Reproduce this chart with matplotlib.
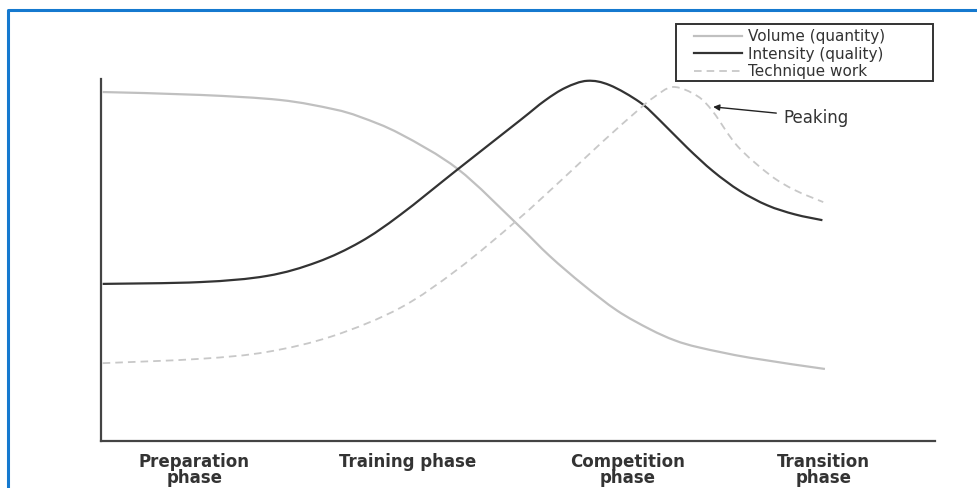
import numpy as np
import matplotlib.pyplot as plt
from matplotlib.patches import Rectangle, PathPatch
from matplotlib.path import Path

# curves; x runs 0-100 along the axis, y 0-100 up the axis
vol_x = [0.2, 11.9, 21.5, 27.8, 31.1, 35.9, 42.8, 49.9, 53.8, 57.8, 61.9, 65.8, 68.8, 71.8, 77.8,
         86.8]
vol_y = [96.4, 95.6, 94.2, 91.7, 89.5, 84.8, 75.1, 59.9, 51.1, 43.2, 36.0, 30.9, 27.8, 25.8, 23.0,
         19.9]

int_x = [0.2, 11.9, 19.9, 25.9, 31.1, 35.9, 42.8, 50.2, 53.2, 55.7, 58.3, 61.0, 64.6, 67.0, 70.3,
         73.4, 76.6, 79.9, 83.2, 86.5]
int_y = [43.4, 43.9, 45.6, 49.4, 55.0, 62.5, 75.1, 88.5, 94.0, 97.6, 99.5, 98.3, 93.6, 88.6, 81.0,
         74.5, 69.1, 65.1, 62.6, 61.0]

tech_x = [0.2, 11.9, 19.9, 27.8, 35.9, 42.8, 49.9, 55.4, 60.2, 64.3, 66.2, 68.6, 71.5, 73.4, 76.3,
          80.2, 83.2, 86.6]
tech_y = [21.5, 22.7, 24.6, 29.0, 36.8, 47.5, 61.0, 72.5, 82.8, 91.2, 94.8, 97.8, 95.3, 90.9, 81.5,
          73.5, 69.3, 66.0]

labels = ['Volume (quantity)', 'Intensity (quality)', 'Technique work']
phase_labels = ['Preparation\nphase', 'Training phase', 'Competition\nphase', 'Transition\nphase']
phase_pos = [11.2, 36.8, 63.1, 86.6]

peak_xy = (73.4, 92.3)
peak_text_xy = (81.8, 89.5)

styles = [
    dict(color='#c0c0c0', lw=1.6, ls='-'),
    dict(color='#333333', lw=1.6, ls='-'),
    dict(color='#c8c8c8', lw=1.3, ls=(0, (4.2, 2.8))),
]


def smooth_path(xs, ys):
    # draw the read points as a smooth curve (catmull-rom as bezier segments)
    p = np.column_stack([xs, ys])
    p = np.vstack([p[0], p, p[-1]])
    verts = [p[1]]
    codes = [Path.MOVETO]
    for i in range(1, len(p) - 2):
        c1 = p[i] + (p[i + 1] - p[i - 1]) / 6
        c2 = p[i + 1] - (p[i + 2] - p[i]) / 6
        verts += [c1, c2, p[i + 1]]
        codes += [Path.CURVE4] * 3
    return Path(verts, codes)


fig = plt.figure(figsize=(9.78, 4.89), dpi=100)
ax = fig.add_axes([101 / 978, 47 / 489, 834 / 978, 362 / 489])

for (xs, ys), st in zip([(vol_x, vol_y), (int_x, int_y), (tech_x, tech_y)], styles):
    ax.add_patch(PathPatch(smooth_path(xs, ys), fill=False, edgecolor=st['color'],
                           lw=st['lw'], ls=st['ls'], clip_on=False, capstyle='butt'))

ax.set_xlim(0, 100)
ax.set_ylim(0, 100)
for s in ['top', 'right']:
    ax.spines[s].set_visible(False)
for s in ['left', 'bottom']:
    ax.spines[s].set_color('#444444')
    ax.spines[s].set_linewidth(1.6)
ax.set_yticks([])
ax.set_xticks(phase_pos, phase_labels, fontsize=12, fontweight='bold', color='#333333')
ax.tick_params(axis='x', length=0, pad=8)
for t in ax.get_xticklabels():
    t.set_linespacing(0.86)

ax.annotate('Peaking', xy=peak_xy, xytext=peak_text_xy, va='center', ha='left',
            fontsize=12, color='#333333',
            arrowprops=dict(arrowstyle='-|>', color='#222222', lw=1, mutation_scale=9,
                            shrinkA=3, shrinkB=0))

# overlay in pixel units for the blue frame and the boxed legend
ov = fig.add_axes([0, 0, 1, 1], facecolor='none')
ov.set_xlim(0, 978)
ov.set_ylim(489, 0)
ov.axis('off')
ov.plot([8, 8, 980], [495, 11, 11], color='#1579cf', lw=2.2)

ov.add_patch(Rectangle((676, 25), 257, 57, facecolor='white', edgecolor='#333333', lw=1.4))
for i, lab in enumerate(labels):
    yy = 36.5 + i * 17.5
    ov.plot([694, 742], [yy, yy], **styles[i])
    ov.text(748, yy, lab, fontsize=11, va='center', ha='left', color='#333333')

fig.savefig('out.png', dpi=100)
